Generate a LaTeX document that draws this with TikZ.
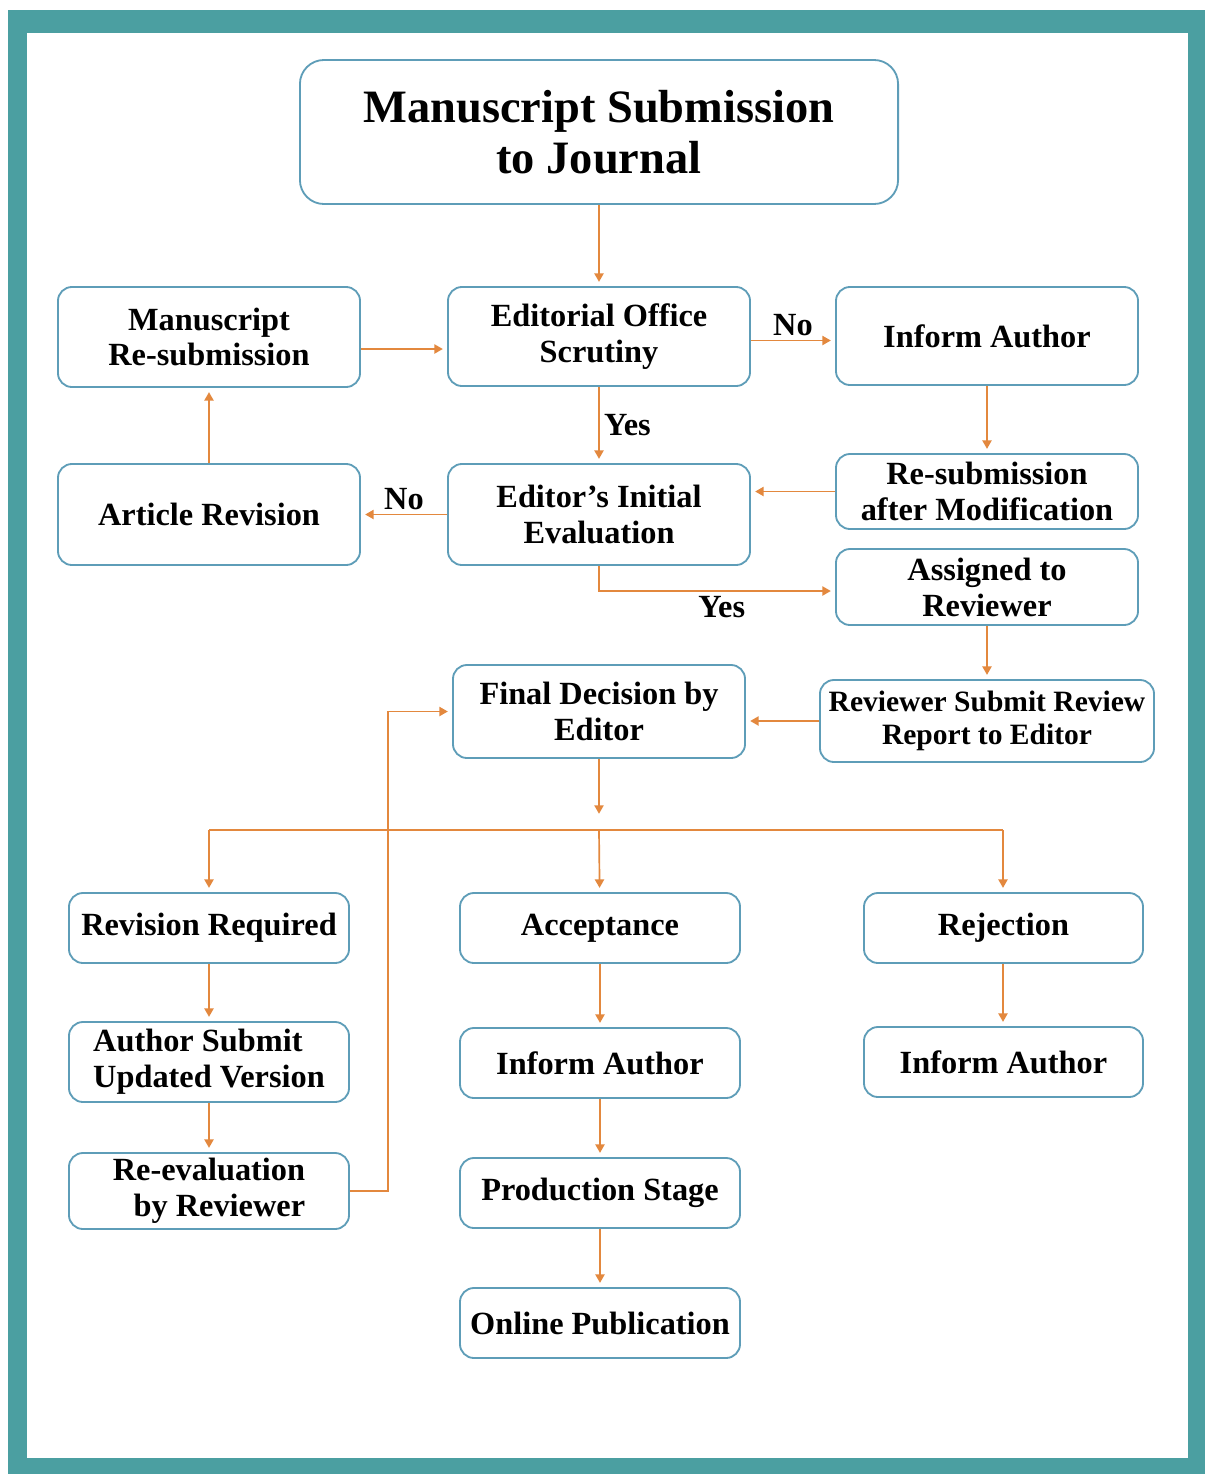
\documentclass[tikz,border=0pt]{standalone}
\usepackage{fontspec}
\setmainfont{Liberation Serif}
\usepackage{tikz}
\usetikzlibrary{arrows.meta,calc}
\definecolor{frame}{HTML}{4B9FA1}
\definecolor{boxline}{HTML}{5E9DB8}
\definecolor{flow}{HTML}{E3883E}
\tikzstyle{stage}=[draw=boxline, line width=1.3pt, rounded corners=0.35cm, fill=white, align=center, inner sep=2pt, font=\bfseries\fontsize{23}{25.5}\selectfont]
\tikzstyle{flow>}=[draw=flow, line width=1.2pt, -{Triangle[length=6pt,width=6.5pt]}, shorten >=3pt]
\tikzstyle{flowline}=[draw=flow, line width=1.2pt]
\tikzstyle{answer}=[font=\bfseries\fontsize{23}{25.5}\selectfont, inner sep=3pt]

\begin{document}
\begin{tikzpicture}[x=0.025cm, y=-0.025cm]
\useasboundingbox (0,0) rectangle (1205,1474);
\fill[white] (0,0) rectangle (1205,1474);
\fill[frame] (8,10) rectangle (1205,1474);
\fill[white] (27,33) rectangle (1188,1458);

\node[stage, rounded corners=0.6cm, minimum width=14.95cm, minimum height=3.6cm, font=\bfseries\fontsize{33}{36}\selectfont] (submit) at (599,132) {Manuscript Submission\\to Journal};

\node[stage, minimum width=7.55cm, minimum height=2.5cm] (resub) at (209,337) {Manuscript\\Re-submission};
\node[stage, minimum width=7.55cm, minimum height=2.475cm] (scrutiny) at (599,336.5) {Editorial Office\\Scrutiny};
\node[stage, minimum width=7.55cm, minimum height=2.45cm] (inform1) at (987,336) {Inform Author};

\node[stage, minimum width=7.55cm, minimum height=2.525cm] (revision) at (209,514.5) {Article Revision};
\node[stage, minimum width=7.55cm, minimum height=2.525cm] (initial) at (599,514.5) {Editor’s Initial\\Evaluation};
\node[stage, minimum width=7.55cm, minimum height=1.875cm] (modif) at (987,491.5) {Re-submission\\after Modification};
\node[stage, minimum width=7.55cm, minimum height=1.9cm] (assigned) at (987,587) {Assigned to\\Reviewer};

\node[stage, minimum width=7.3cm, minimum height=2.325cm] (decision) at (599,711.5) {Final Decision by\\Editor};
\node[stage, minimum width=8.35cm, minimum height=2.05cm, font=\bfseries\fontsize{21}{23.5}\selectfont] (report) at (987,721) {Reviewer Submit Review\\Report to Editor};

\node[stage, minimum width=7cm, minimum height=1.75cm] (required) at (209,928) {Revision Required};
\node[stage, minimum width=7cm, minimum height=1.75cm] (accept) at (600,928) {Acceptance};
\node[stage, minimum width=6.975cm, minimum height=1.75cm] (reject) at (1003.5,928) {Rejection};

\node[stage, minimum width=7cm, minimum height=2cm, align=left] (updated) at (209,1062) {Author Submit\\Updated Version};
\node[stage, minimum width=7cm, minimum height=1.9cm, align=right] (reeval) at (209,1191) {Re-evaluation\\by Reviewer};

\node[stage, minimum width=7cm, minimum height=1.75cm] (inform2) at (600,1063) {Inform Author};
\node[stage, minimum width=7cm, minimum height=1.75cm] (production) at (600,1193) {Production Stage};
\node[stage, minimum width=7cm, minimum height=1.75cm] (online) at (600,1323) {Online Publication};
\node[stage, minimum width=6.975cm, minimum height=1.75cm] (inform3) at (1003.5,1062) {Inform Author};

\coordinate (drop) at (599,818);
\coordinate (split) at (599,830);
\coordinate (splitL) at (209,830);
\coordinate (splitR) at (1003,830);
\coordinate (loop) at (388,1191);

\draw[flow>] (submit) -- (scrutiny);
\draw[flow>] ($(resub.east)+(0,12)$) -- (scrutiny.west |- {$(resub.east)+(0,12)$});
\draw[flow>] ($(scrutiny.east)+(0,4)$) -- node[answer, above] {No} (inform1.west |- {$(scrutiny.east)+(0,4)$});
\draw[flow>] (scrutiny) -- node[answer, right] {Yes} (initial);
\draw[flow>] (inform1) -- (modif);
\draw[flow>] (modif.west) -- (initial.east |- modif.west);
\draw[flow>] (initial.west) -- node[answer, above] {No} (revision.east);
\draw[flow>] (revision) -- (resub);
\draw[flow>] (initial.south) |- node[answer, pos=0.76, below] {Yes} ($(assigned.west)+(0,4)$);
\draw[flow>] (assigned) -- (report);
\draw[flow>] (report.west) -- (decision.east |- report.west);
\draw[flow>] (decision) -- (drop);
\draw[flowline] (splitL) -- (splitR);
\draw[flow>] (splitL) -- (required);
\draw[flow>] (split) -- (accept);
\draw[flow>] (splitR) -- (splitR |- reject.north);
\draw[flow>] (required) -- (updated);
\draw[flow>] (updated) -- (reeval);
\draw[flow>] (reeval.east) -- (loop) |- (decision.west);
\draw[flow>] (accept) -- (inform2);
\draw[flow>] (inform2) -- (production);
\draw[flow>] (production) -- (online);
\draw[flow>] (reject.south -| splitR) -- (inform3.north -| splitR);
\end{tikzpicture}
\end{document}
